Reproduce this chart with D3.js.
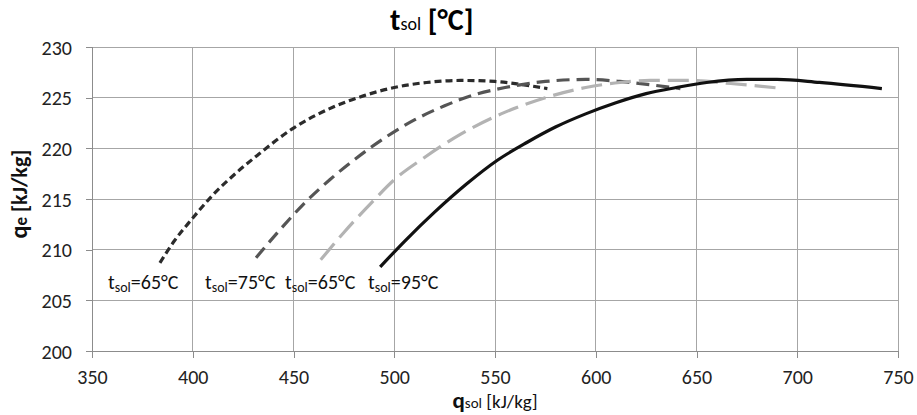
<!DOCTYPE html>
<html>
<head>
<meta charset="utf-8">
<script src="https://cdn.jsdelivr.net/npm/d3@7"></script>
<style>
  html, body { margin: 0; padding: 0; background: #fff; }
  svg { display: block; font-family: Carlito, "Open Sans", sans-serif; }
</style>
</head>
<body>
<svg id="chart" width="917" height="415"></svg>
<script>
// q_sol [kJ/kg] vs q_e [kJ/kg] for several solution temperatures
const xTicks = [350, 400, 450, 500, 550, 600, 650, 700, 750];
const yTicks = [200, 205, 210, 215, 220, 225, 230];

const curve65a = [
  [383.7, 208.7], [391, 210.9], [399.5, 213.0], [410, 215.4], [420, 217.3],
  [432, 219.3], [450, 222.0], [470, 224.1], [485, 225.2], [500, 226.0],
  [516, 226.5], [533, 226.7], [550, 226.6], [563, 226.3], [576, 225.9]
];
const curve75 = [
  [431.4, 209.2], [443, 211.9], [455, 214.5], [468, 216.9], [481, 219.0],
  [495, 221.0], [510, 222.8], [525, 224.2], [540, 225.3], [555, 226.0],
  [575, 226.6], [595, 226.8], [612, 226.6], [630, 226.2], [642, 225.9]
];
const curve65b = [
  [463.5, 209.0], [475, 211.7], [489, 214.7], [500, 216.9], [515, 219.1],
  [533, 221.4], [553, 223.4], [575, 225.0], [595, 226.0], [612, 226.5],
  [627, 226.7], [645, 226.7], [667, 226.4], [693, 225.9]
];
const curve95 = [
  [493, 208.3], [505, 210.8], [520, 213.7], [536, 216.5], [551, 218.8],
  [566, 220.6], [580, 222.1], [595, 223.4], [610, 224.5], [625, 225.4],
  [640, 226.0], [655, 226.5], [675, 226.8], [690, 226.8], [711, 226.5], [742, 225.9]
];

const seriesLabels = ["65°C", "75°C", "65°C", "95°C"];

const svg = d3.select("#chart");
const margin = { left: 92, right: 19, top: 47, bottom: 64 };
const W = 917, H = 415;

const x = d3.scaleLinear().domain([350, 750]).range([margin.left, W - margin.right]);
const y = d3.scaleLinear().domain([200, 230]).range([H - margin.bottom, margin.top]);

const gridColor = "#a6a6a6";

// grid
svg.append("g").selectAll("line.v").data(xTicks).join("line")
  .attr("x1", d => x(d)).attr("x2", d => x(d))
  .attr("y1", y(200)).attr("y2", y(230))
  .attr("stroke", gridColor).attr("stroke-width", 1).attr("shape-rendering", "crispEdges");
svg.append("g").selectAll("line.h").data(yTicks).join("line")
  .attr("x1", x(350)).attr("x2", x(750))
  .attr("y1", d => y(d)).attr("y2", d => y(d))
  .attr("stroke", gridColor).attr("stroke-width", 1).attr("shape-rendering", "crispEdges");

// axes
const xAxis = d3.axisBottom(x).tickValues(xTicks).tickSize(7).tickPadding(12);
const yAxis = d3.axisLeft(y).tickValues(yTicks).tickSize(6).tickPadding(14);

const gx = svg.append("g").attr("transform", `translate(0,${y(200)})`).call(xAxis);
const gy = svg.append("g").attr("transform", `translate(${x(350)},0)`).call(yAxis);
[gx, gy].forEach(g => {
  g.select(".domain").attr("stroke", "#8c8c8c").attr("shape-rendering", "crispEdges");
  g.selectAll(".tick line").attr("stroke", "#8c8c8c").attr("shape-rendering", "crispEdges");
  g.selectAll(".tick text").attr("fill", "#222").style("font-size", "20px")
    .style("font-family", 'Carlito, "Open Sans", sans-serif');
});
gy.selectAll(".tick text").attr("dy", "0.35em");

// curves
const line = d3.line().x(d => x(d[0])).y(d => y(d[1])).curve(d3.curveMonotoneX);

const styles = [
  { data: curve65a, color: "#2b2b2b", dash: "7,4", width: 3.2 },
  { data: curve75, color: "#555555", dash: "13,7", width: 3.2 },
  { data: curve65b, color: "#b3b3b3", dash: "21,8", width: 3.2 },
  { data: curve95, color: "#111111", dash: null, width: 3.2 }
];
styles.forEach(s => {
  svg.append("path").datum(s.data)
    .attr("d", line)
    .attr("fill", "none")
    .attr("stroke", s.color)
    .attr("stroke-width", s.width)
    .attr("stroke-dasharray", s.dash);
});

// curve labels
const labelX = [108, 205, 285, 368];
seriesLabels.forEach((lab, i) => {
  const t = svg.append("text").attr("x", labelX[i]).attr("y", 289)
    .attr("fill", "#111").style("font-size", "20px");
  t.append("tspan").text("t");
  t.append("tspan").text("sol").attr("dy", 3).style("font-size", "14px");
  t.append("tspan").text("=" + lab).attr("dy", -3);
});

// title
const title = svg.append("text").attr("x", 390).attr("y", 30)
  .attr("fill", "#000").style("font-weight", "bold").style("font-size", "30px");
title.append("tspan").text("t");
title.append("tspan").text("sol").style("font-size", "18px").style("font-weight", "normal");
title.append("tspan").text(" [°C]");

// x axis title
const xt = svg.append("text").attr("x", 495).attr("y", 408).attr("text-anchor", "middle")
  .attr("fill", "#111").style("font-size", "19px");
xt.append("tspan").text("q").style("font-weight", "bold").style("font-size", "23px");
xt.append("tspan").text("sol").style("font-size", "15px");
xt.append("tspan").text(" [kJ/kg]");

// y axis title
const yt = svg.append("text")
  .attr("transform", `translate(27,${(y(200) + y(230)) / 2 - 5}) rotate(-90)`)
  .attr("text-anchor", "middle").attr("fill", "#111")
  .style("font-weight", "bold").style("font-size", "22px");
yt.append("tspan").text("q").style("font-size", "24px");
yt.append("tspan").text("e").style("font-size", "17px");
yt.append("tspan").text(" [kJ/kg]");
</script>
</body>
</html>
